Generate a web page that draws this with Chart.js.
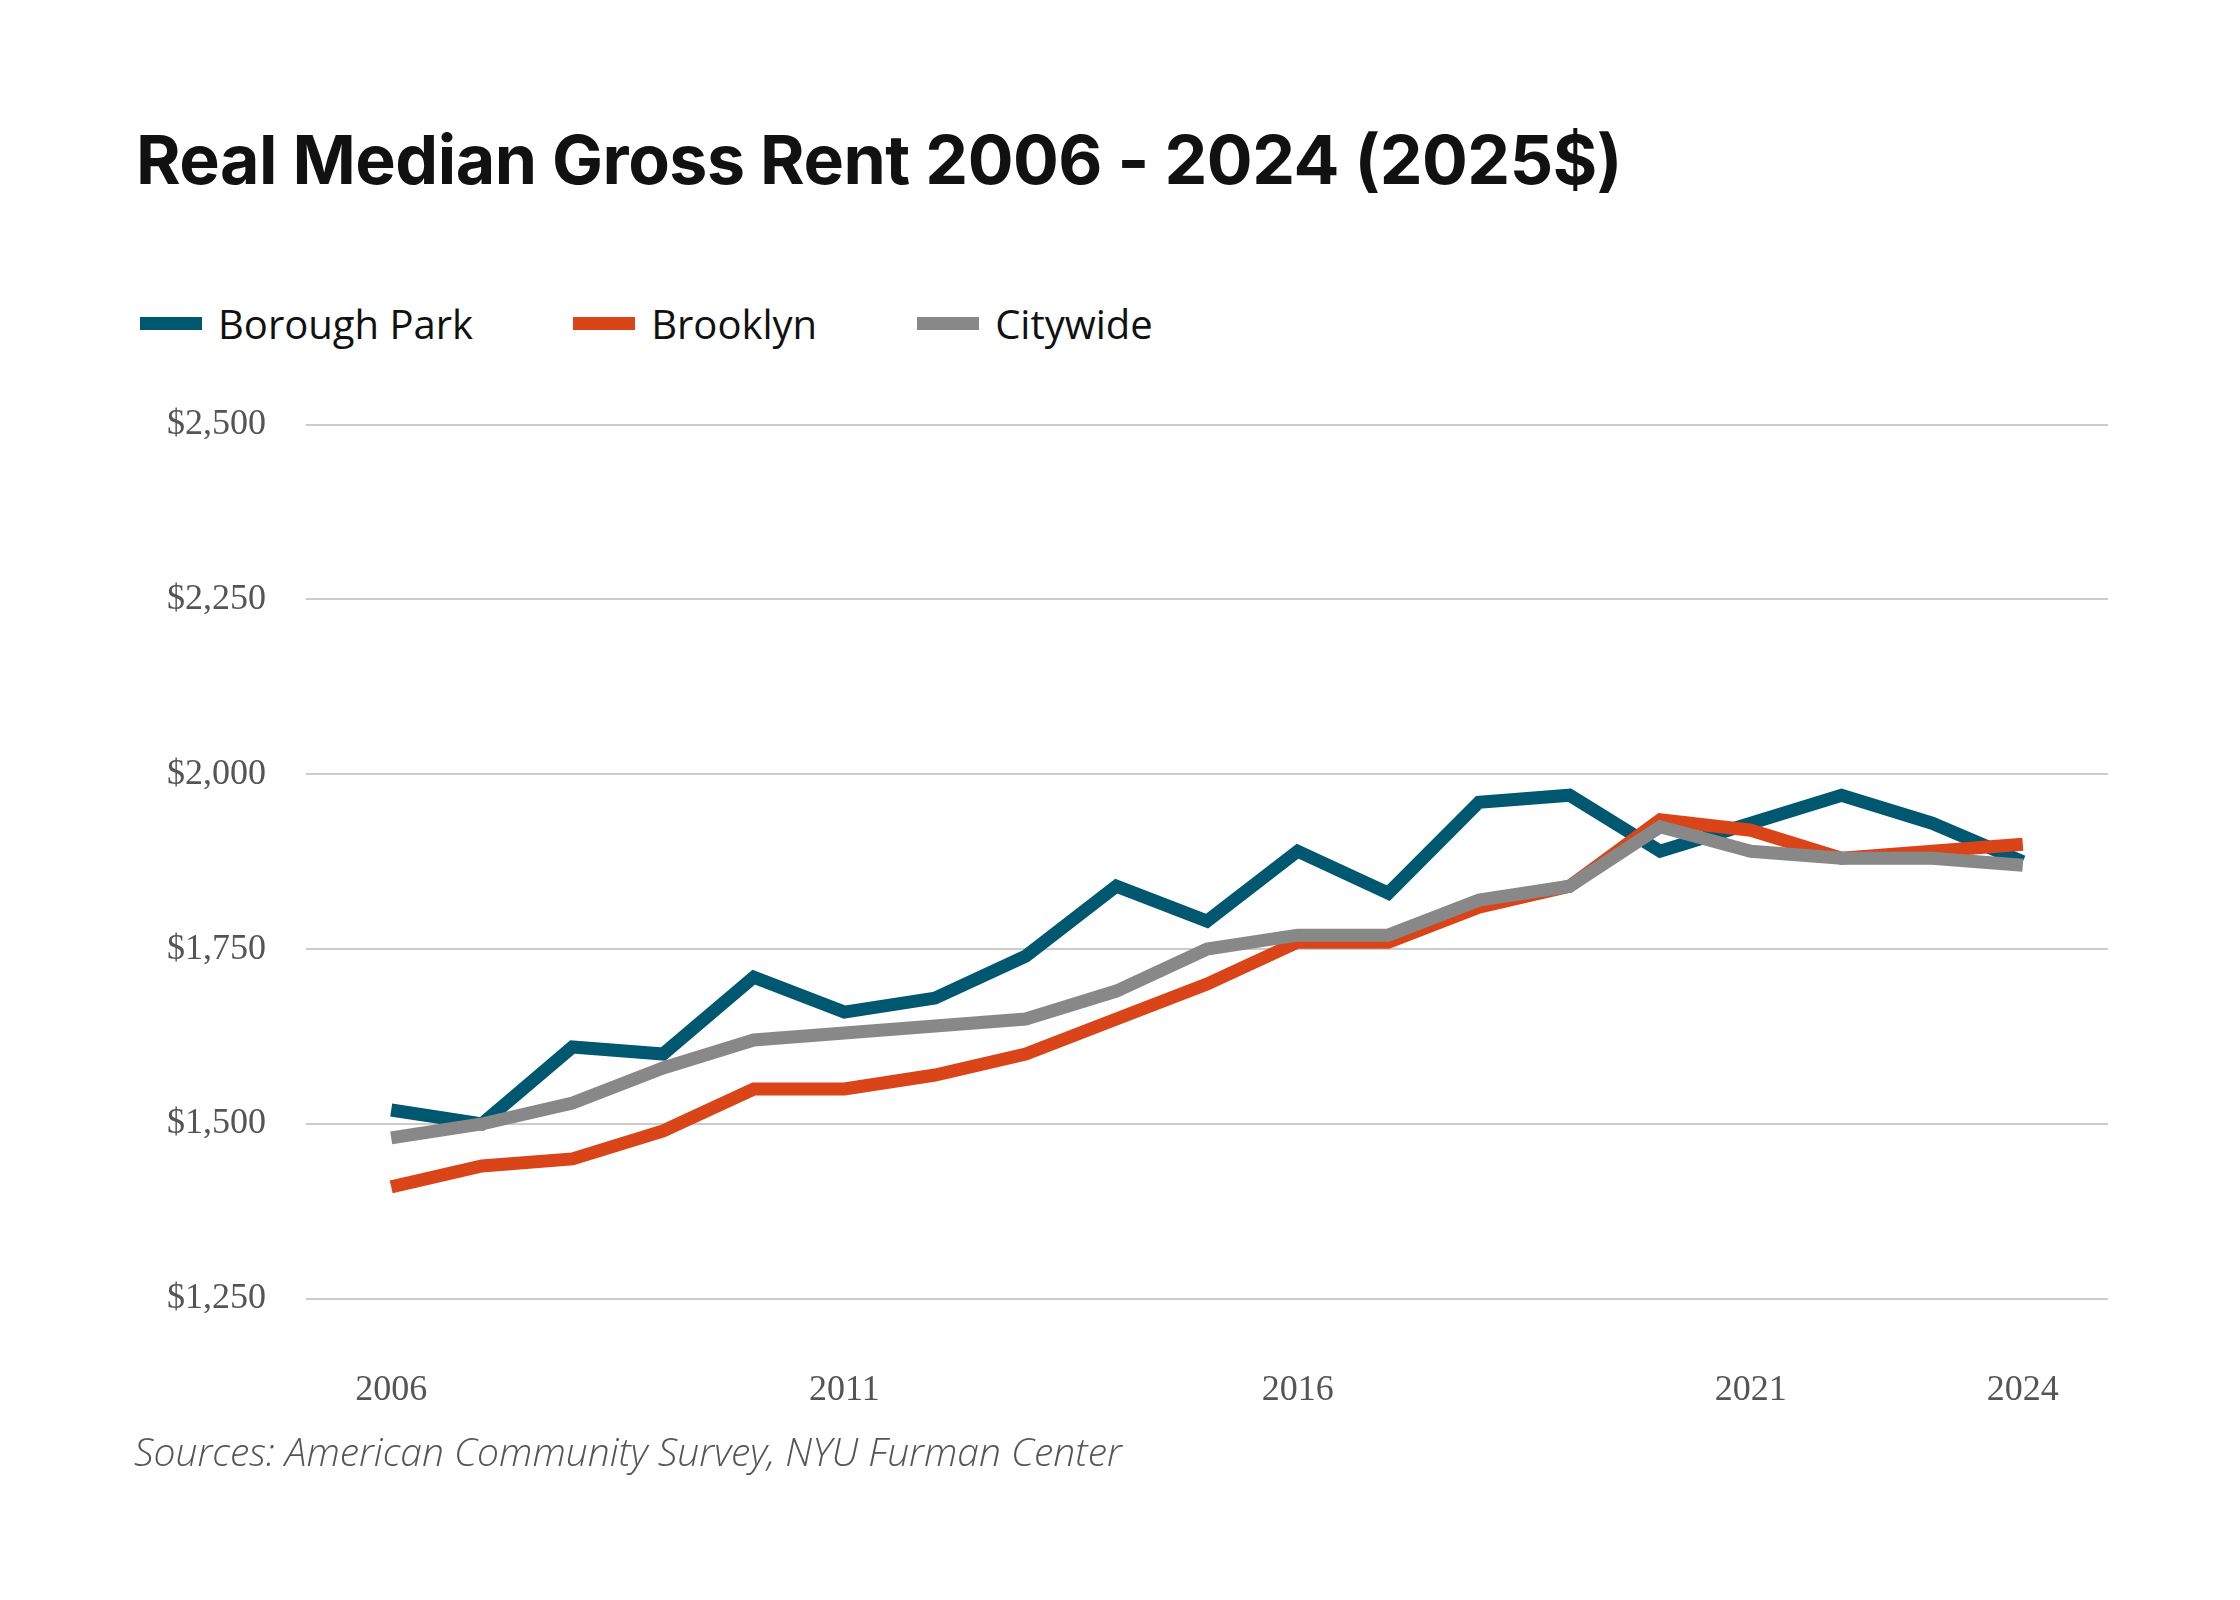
<!DOCTYPE html>
<html><head><meta charset="utf-8">
<script src="https://cdn.jsdelivr.net/npm/chart.js@4"></script>
<style>
body{margin:0;background:#fff;width:2240px;height:1600px;position:relative;overflow:hidden;font-family:"Open Sans",sans-serif}
#title{position:absolute;left:136px;top:118px;font:bold 68px Inter,sans-serif;color:#111;letter-spacing:-0.5px}
#legend{position:absolute;left:140px;top:296px;font:40px "Open Sans",sans-serif;color:#111;display:flex}
#legend span{display:flex;align-items:center;margin-right:100px}
#legend i{display:inline-block;width:62px;height:13px;margin-right:16px}
#src{position:absolute;left:134px;top:1424px;font:italic 300 39px "Open Sans",sans-serif;color:#555}
#wrap{position:absolute;left:0;top:363px;width:2240px;height:1131px}
</style></head><body>
<div id="title">Real Median Gross Rent 2006 - 2024 (2025$)</div>
<div id="legend">
<span><i style="background:#005870"></i>Borough Park</span>
<span><i style="background:#d94418"></i>Brooklyn</span>
<span><i style="background:#888888"></i>Citywide</span>
</div>
<div id="wrap"><canvas id="c"></canvas></div>
<div id="src">Sources: American Community Survey, NYU Furman Center</div>
<script>
const years = [2006,2007,2008,2009,2010,2011,2012,2013,2014,2015,2016,2017,2018,2019,2020,2021,2022,2023,2024];
const boroughPark = [1520,1500,1610,1600,1710,1660,1680,1740,1840,1790,1890,1830,1960,1970,1890,1930,1970,1930,1875];
const brooklyn = [1410,1440,1450,1490,1550,1550,1570,1600,1650,1700,1760,1760,1810,1840,1935,1920,1880,1890,1900];
const citywide = [1480,1500,1530,1580,1620,1630,1640,1650,1690,1750,1770,1770,1820,1840,1925,1890,1880,1880,1870];
const xTicks = [2006,2011,2016,2021,2024];
const yTicks = [1250,1500,1750,2000,2250,2500];

const pts = arr => arr.map((v,i) => ({x: years[i], y: v}));
const ds = (label, arr, color) => ({label, data: pts(arr), borderColor: color, backgroundColor: color,
  borderWidth: 13, pointRadius: 0, tension: 0, borderJoinStyle: "miter", borderCapStyle: "butt"});

new Chart(document.getElementById("c"), {
  type: "line",
  data: {datasets: [
    ds("Citywide", citywide, "#888888"),
    ds("Brooklyn", brooklyn, "#d94418"),
    ds("Borough Park", boroughPark, "#005870"),
  ]},
  options: {
    responsive: true, maintainAspectRatio: false, animation: false,
    layout: {padding: {top: 24, left: 127, right: 132, bottom: 20}},
    plugins: {legend: {display: false}, tooltip: {enabled: false}},
    scales: {
      x: {type: "linear", min: 2005.06, max: 2024.94,
        afterBuildTicks: s => { s.ticks = xTicks.map(v => ({value: v})); },
        grid: {display: false}, border: {display: false},
        ticks: {padding: 62, color: "#555", font: {family: "Liberation Serif", size: 36}, callback: v => String(v)}},
      y: {min: 1250, max: 2500,
        afterBuildTicks: s => { s.ticks = yTicks.map(v => ({value: v})); },
        grid: {color: "#cccccc", lineWidth: 2, drawTicks: false}, border: {display: false},
        ticks: {padding: 40, color: "#555", font: {family: "Liberation Serif", size: 36},
          callback: v => "$" + v.toLocaleString("en-US")}}
    }
  }
});
</script>
</body></html>
